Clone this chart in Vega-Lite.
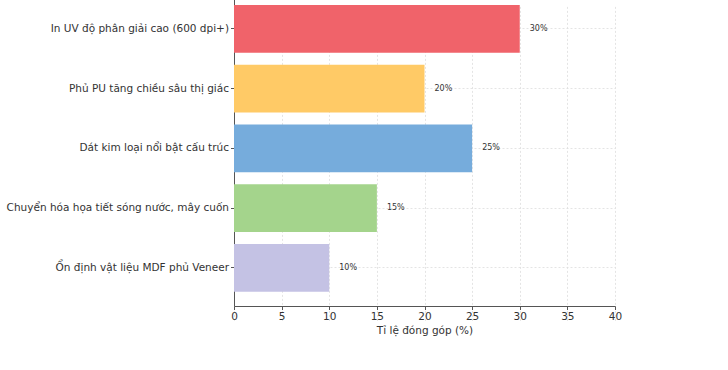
{
  "$schema": "https://vega.github.io/schema/vega-lite/v6.json",
  "width": 381,
  "height": 301,
  "autosize": {"type": "none"},
  "padding": {"left": 234, "top": 5, "right": 113, "bottom": 64},
  "background": "white",
  "config": {"view": {"stroke": null}, "font": "DejaVu Sans"},
  "data": {
    "values": [
      {"label": "In UV độ phân giải cao (600 dpi+)", "value": 30, "pct": "30%"},
      {"label": "Phủ PU tăng chiều sâu thị giác", "value": 20, "pct": "20%"},
      {"label": "Dát kim loại nổi bật cấu trúc", "value": 25, "pct": "25%"},
      {"label": "Chuyển hóa họa tiết sóng nước, mây cuốn", "value": 15, "pct": "15%"},
      {"label": "Ổn định vật liệu MDF phủ Veneer", "value": 10, "pct": "10%"}
    ]
  },
  "encoding": {
    "y": {
      "field": "label",
      "type": "nominal",
      "sort": null,
      "scale": {"range": [-14.4, 301], "paddingInner": 0.2, "paddingOuter": 0.24},
      "axis": {
        "title": null,
        "labelFontSize": 10.5,
        "labelColor": "#333333",
        "labelPadding": 2,
        "labelLimit": 400,
        "tickSize": 3.5,
        "tickColor": "#555555",
        "domainColor": "#555555",
        "grid": true,
        "gridColor": "#dddddd",
        "gridDash": [2, 2],
        "gridWidth": 0.8
      }
    }
  },
  "layer": [
    {
      "mark": {"type": "bar", "opacity": 1},
      "encoding": {
        "x": {
          "field": "value",
          "type": "quantitative",
          "scale": {"domain": [0, 40], "nice": false},
          "axis": {
            "title": "Tỉ lệ đóng góp (%)",
            "titleFontSize": 10.5,
            "titleFontWeight": "normal",
            "titleColor": "#333333",
            "titlePadding": 3,
            "values": [0, 5, 10, 15, 20, 25, 30, 35, 40],
            "labelFlush": false,
            "labelFontSize": 10.5,
            "labelColor": "#333333",
            "labelPadding": 2,
            "tickSize": 3.5,
            "tickColor": "#555555",
            "domainColor": "#555555",
            "grid": true,
            "gridColor": "#dddddd",
            "gridDash": [2, 2],
            "gridWidth": 0.8
          }
        },
        "color": {
          "field": "label",
          "type": "nominal",
          "sort": null,
          "legend": null,
          "scale": {
            "domain": [
              "In UV độ phân giải cao (600 dpi+)",
              "Phủ PU tăng chiều sâu thị giác",
              "Dát kim loại nổi bật cấu trúc",
              "Chuyển hóa họa tiết sóng nước, mây cuốn",
              "Ổn định vật liệu MDF phủ Veneer"
            ],
            "range": ["#F0636A", "#FFCA66", "#76ACDC", "#A4D48C", "#C4C2E4"]
          }
        }
      }
    },
    {
      "mark": {"type": "text", "align": "left", "baseline": "middle", "dx": 10, "fontSize": 8, "color": "#333333"},
      "encoding": {
        "x": {"field": "value", "type": "quantitative"},
        "text": {"field": "pct", "type": "nominal"}
      }
    }
  ]
}
